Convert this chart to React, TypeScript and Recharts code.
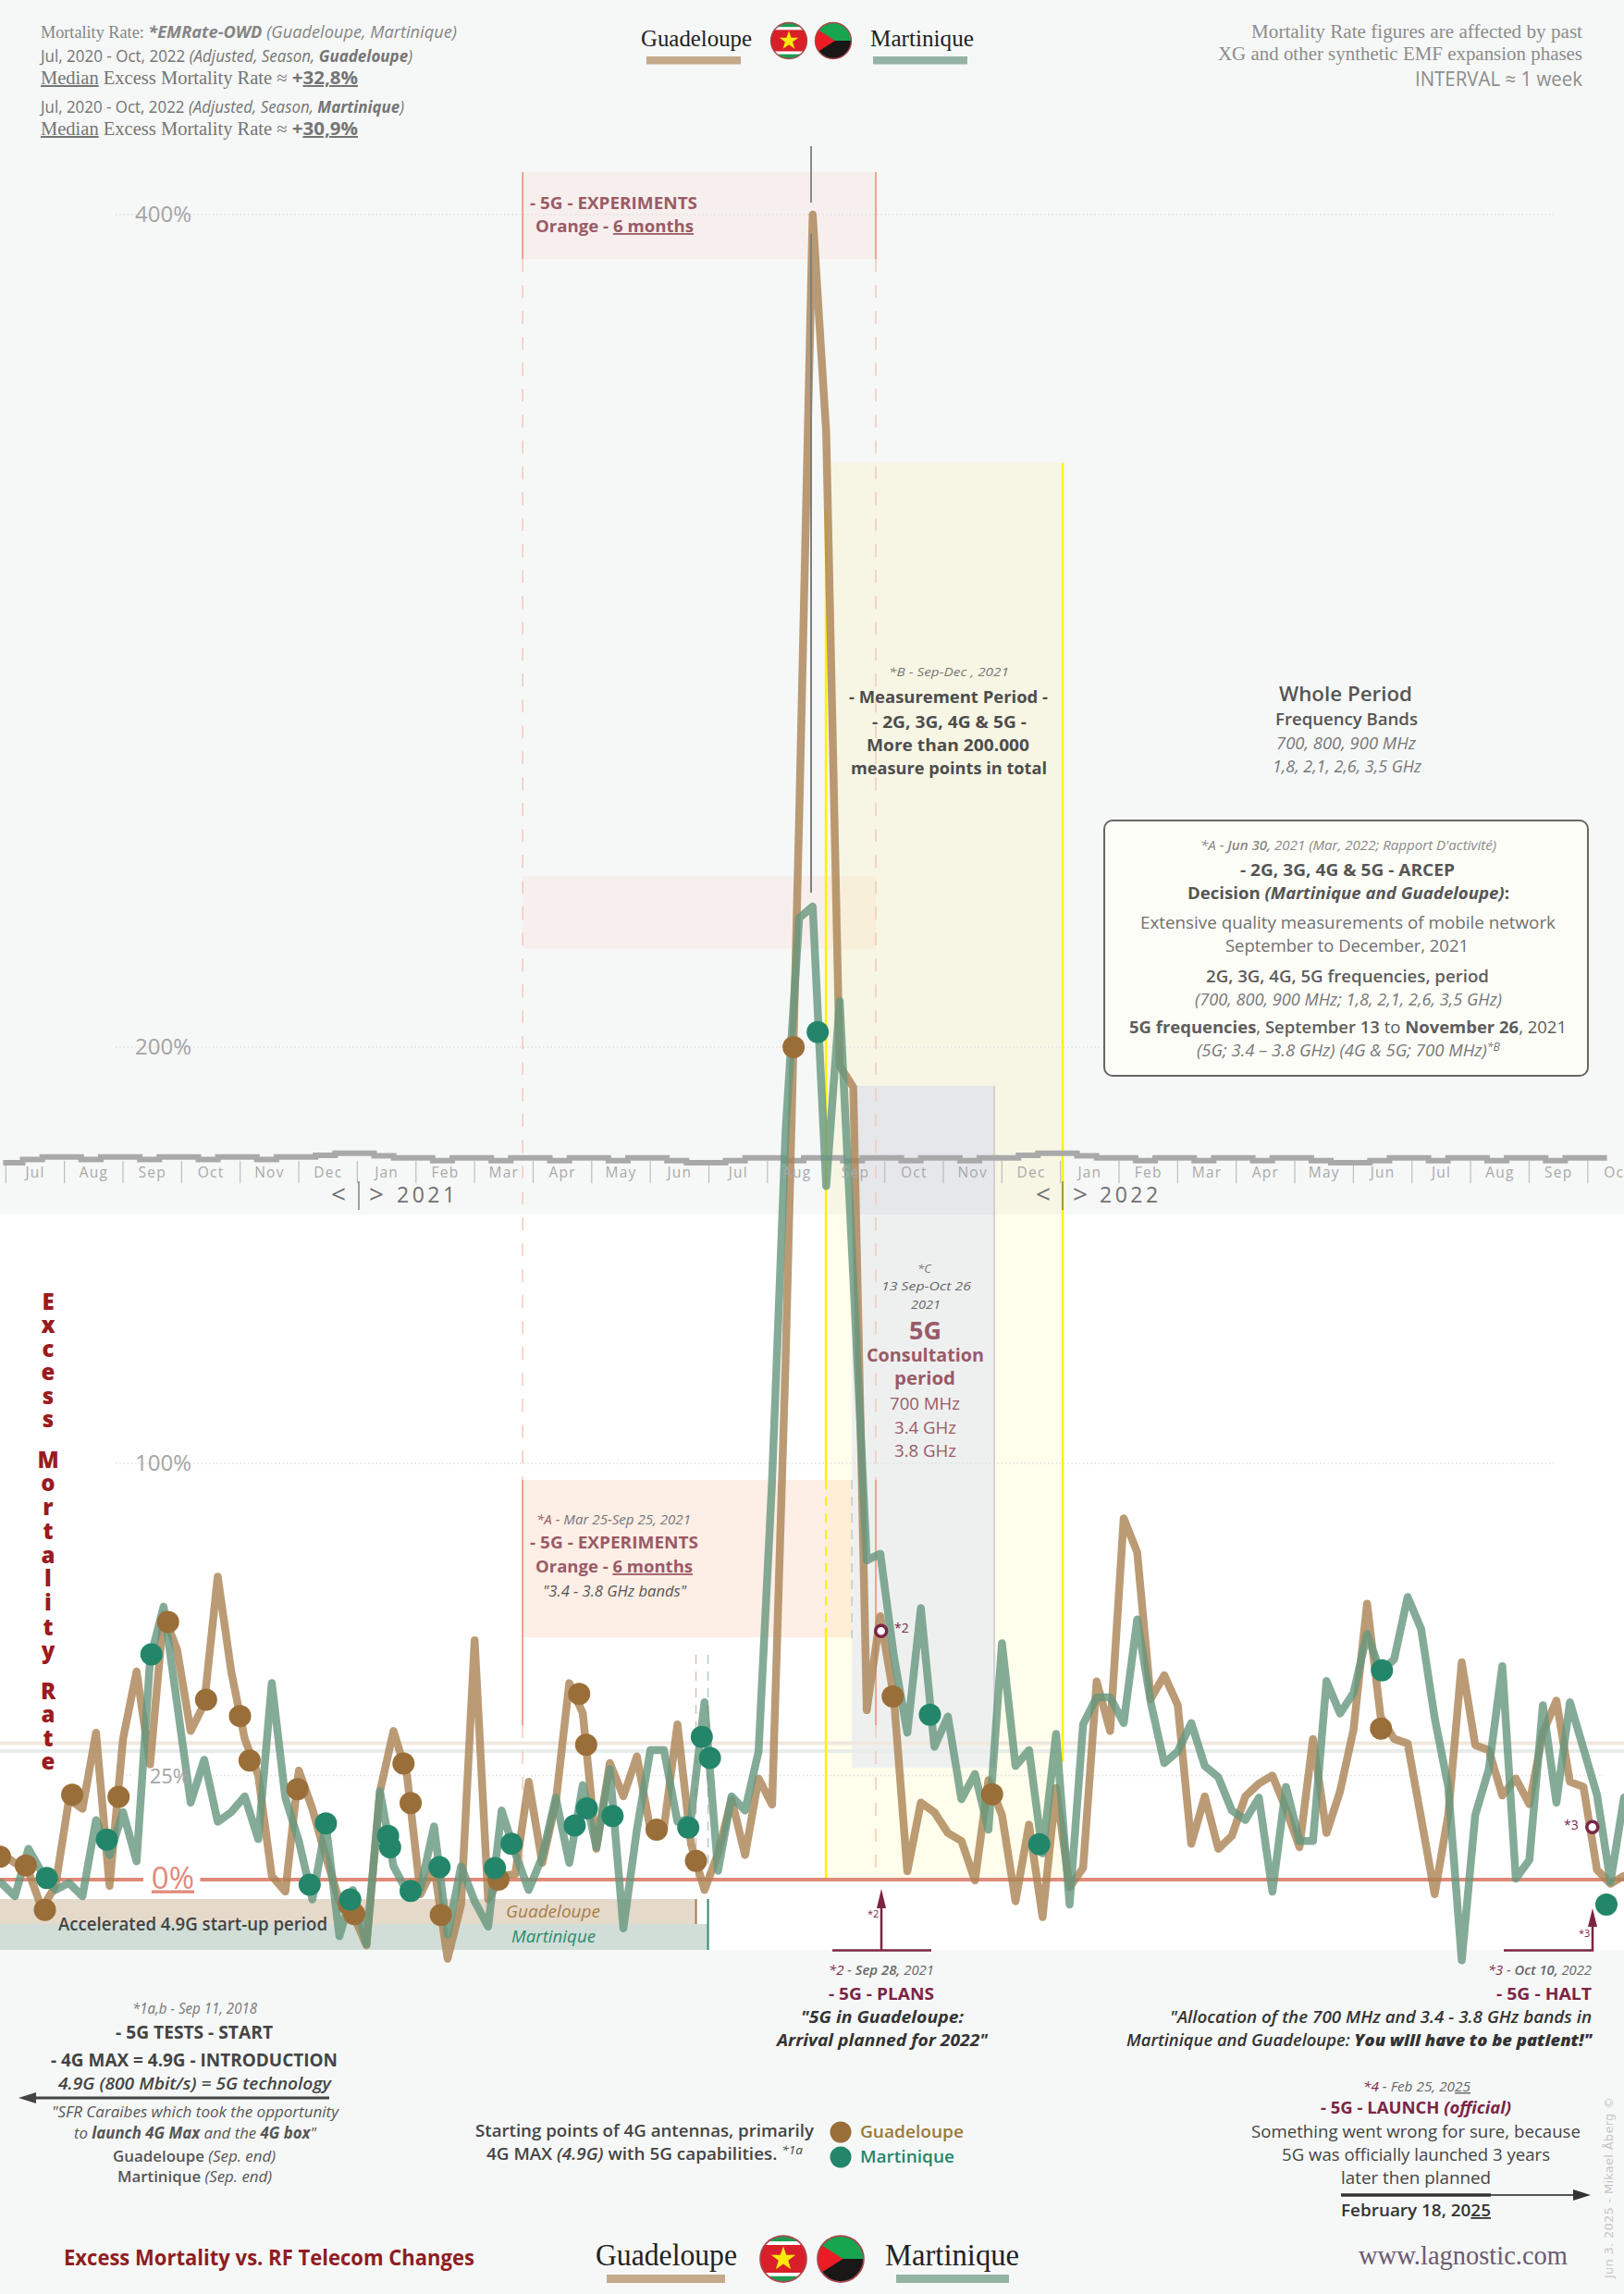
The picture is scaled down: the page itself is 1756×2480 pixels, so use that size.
import React from "react";
import { ComposedChart, Line, XAxis, YAxis, ReferenceArea, ReferenceLine } from "recharts";

// weekly excess mortality, % (week 0 = start of Jul 2020)
const guadeloupe = [
  6.3, 4, 2, -7, -1.5, 19.3, 17, 35.3, -1.5, 33.8, 50, 27.7, 63.7, 55.2, 35.7, 42.2, 72.8, 50, 33.8, 25,
  0.9, -2.9, 26.2, 17, 5.5, -5.2, -8.3, -15.8, 21.2, 35.7, 25, -3.5, 3.2, -19, -6, 57.5, -4.8, 0.9, 1.3, 23.5,
  4, 18.5, 47.2, 40, 7.4, 28, 20, 29.6, 12, 12.4, 37.3, 8.6, -2.5, 6.3, 19.3, 5.9, 24.3, 18, 125, 255,
  400, 347.7, 195.5, 190.4, 40.7, 63.3, 43.8, 2, 18.5, 16.2, 11.2, 9.3, -0.2, 23.9, 15.5, -5.2, 13.2, -9, 22, -1.8,
  2.8, 47.6, 35.7, 86.8, 78.6, 43.4, 49.1, 41.9, 8.6, 20, 7.4, 10.5, 20, 23.1, 25, 17, 7.8, 33.8, 11.2, 21.2,
  36.1, 66.3, 39.2, 33.8, 32.7, 14.7, -3.5, 15.5, 52.2, 32.3, 31.1, 20.2, 24.3, 18.1, 35.3, 43, 23.5, 22.3, 2.4, -1,
  0.9,
];
const martinique = [
  -0.8, -4, 7.4, 1.7, -2.5, -0.8, -4, 14.3, 5.9, 16.2, 4.4, 52.9, 65.6, 42.2, 18.5, 28.8, 13.9, 16.2, 20, 9.7,
  47.2, 19.7, 9.3, -4.8, 13.2, -13.6, -2.5, -15.5, 21.2, 3.2, -2.9, -2.1, 12.8, -13.2, 3.2, -5.2, -11.3, 16.6, 6.3, -2.5,
  5.5, 19.7, 4, 22.7, 7.8, 26.5, -11.7, 12, 31.1, 31.1, 13.9, 14.7, 42.6, 2.1, 20, 16.6, 30.8, 96, 180, 231,
  233.8, 166.6, 211, 145, 76.7, 78.3, 53.7, 35.3, 65.2, 31.9, 39.2, 19.3, 25.4, 12, 56.8, 27.3, 31.1, 6.3, 35, -6,
  37.3, 43.8, 43.8, 37.6, 62.5, 42.6, 28, 30.8, 37.6, 27.3, 24.6, 16.6, 14.3, 19.7, -2.9, 22.3, 9.3, 9.3, 47.7, 39.9,
  44.9, 59, 49.9, 52.9, 67.9, 60.2, 38.8, 22.3, -19.4, 15.5, 26.5, 51.3, 0.2, 4.7, 41.9, 18.5, 42.6, 31.5, 20.4, -0.6,
  19.7,
];
// 4G antenna starting points [week, %]
const guadeloupeStarts = [
  [-0.1, 5.5], [1.81, 3.4], [3.22, -7.3], [5.24, 20.4], [8.67, 19.9], [12.33, 61.9], [15.14, 43.2], [17.65, 39.3],
  [18.36, 28.6], [21.9, 21.7], [25.7, -6], [26.1, -8.3], [29.74, 27.9], [30.27, 18.4], [32.5, -8.5], [36.76, 0],
  [42.73, 44.6], [43.25, 32.4], [48.46, 12], [51.37, 4.5], [58.59, 200], [65.92, 44], [73.27, 20.5], [102.03, 36.3],
];
const martiniqueStarts = [
  [3.36, 0.4], [7.8, 9.6], [11.1, 54.1], [22.8, -1.2], [24, 13.5], [25.8, -4.8], [28.6, 10.5], [28.75, 7.8],
  [30.27, -2.7], [32.4, 3], [36.5, 2.8], [37.73, 8.6], [42.4, 13], [43.3, 17.1], [45.2, 15.3], [50.8, 12.5],
  [51.8, 34.3], [52.4, 29.2], [60.37, 203.6], [68.67, 39.6], [76.76, 8.5], [102.1, 50.3], [118.7, -6],
];
const eventPoints = [[65.06, 59.7], [117.66, 12.6]];

const monthLabels = [
  "Jul", "Aug", "Sep", "Oct", "Nov", "Dec", "Jan", "Feb", "Mar", "Apr", "May", "Jun", "Jul", "Aug",
  "Sep", "Oct", "Nov", "Dec", "Jan", "Feb", "Mar", "Apr", "May", "Jun", "Jul", "Aug", "Sep", "Oct",
];
const percentTicks = [0, 25, 100, 200, 400];
// the stepped band over the month labels, one level per third of a month
const stairLevels = [
  172.2, 173, 173.6, 173.6, 173, 173.6, 173.6, 173, 173.6, 173.6, 173, 173.6, 173.6, 173, 173.6, 173.6, 174, 174.5, 174.5,
  173.9, 173.4, 173.4, 172.7, 173.4, 173.4, 172.7, 173.4, 173.4, 172.7, 173.4, 173.4, 172.7, 173.4, 173.4, 172.7, 172.2, 172.2,
  172.7, 173.4, 173.4, 172.7, 173.4, 173.4, 172.7, 173.4, 173.4, 172.7, 173.4, 173.4, 172.7, 173.4, 173.4, 174, 174.5, 174.5,
  173.9, 173.4, 173.4, 172.7, 173.4, 173.4, 172.7, 173.4, 173.4, 172.7, 173.4, 173.4, 172.7, 172.2, 172.2, 172.7, 173.4, 173.4,
  172.7, 173.4, 173.4, 172.7, 173.4, 173.4, 172.7, 173.4, 173.4, 172.7,
];
const titleLetters = "ExcessMortalityRate".split("");
const titleBaselines = [1416, 1441, 1467, 1492, 1518, 1543, 1587, 1612, 1638, 1664, 1690, 1715, 1741, 1768, 1793, 1837, 1862, 1888, 1913];

const rows = guadeloupe.map((g, i) => ({ week: i, guadeloupe: g, martinique: martinique[i] }));
const toPoints = (list: number[][]) => list.map(([week, rate]) => ({ week, rate }));
const stairRows = stairLevels.map((level, i) => ({ week: 0.13 + i * 1.444, level }));
const monthCenters = monthLabels.map((_, i) => 2.5 + i * 4.333);
const monthEdges = monthLabels.map((_, i) => 0.33 + i * 4.333);

const SANS = "'Open Sans', 'Noto Sans', sans-serif";
const SERIF = "'Liberation Serif', serif";
const CRIMSON = "#7b2545";
const ROSE = "#9a5a66";
const TAN = "#aa8253";
const GREEN = "#65967d";

const MonthTick = ({ x, payload }: any) => (
  <text x={x} y={1273} textAnchor="middle" fontFamily={SANS} fontSize={15.5} letterSpacing={1.2} fill="#a9a9a9">
    {monthLabels[monthCenters.indexOf(payload.value)]}
  </text>
);

const PercentTick = ({ y, payload }: any) => {
  const v = payload.value;
  if (v === 0) {
    return (
      <text x={210} y={y + 9.5} textAnchor="end" fontFamily={SANS} fontSize={33} fill="#e08a7a" textDecoration="underline">
        0%
      </text>
    );
  }
  return (
    <text x={v === 25 ? 205 : 207} y={y + 8} textAnchor="end" fontFamily={SANS} fontSize={v === 25 ? 22 : 24} fill="#a5a5a5">
      {v}%
    </text>
  );
};

// one line of text, x = left edge, y = baseline, w = width on the page
const T = ({ x, y, w, s = 17, f = "#555", b = 400, i = false, serif = false, children }: any) => (
  <text
    x={x}
    y={y}
    fontSize={s}
    fill={f}
    fontWeight={b}
    fontStyle={i ? "italic" : "normal"}
    fontFamily={serif ? SERIF : SANS}
    textLength={w}
    lengthAdjust={w ? "spacingAndGlyphs" : undefined}
  >
    {children}
  </text>
);
const U = ({ children }: any) => <tspan textDecoration="underline">{children}</tspan>;

const GuadeloupeFlag = ({ cx, cy, r, id }: any) => (
  <g transform={`translate(${cx} ${cy}) scale(${r / 20})`}>
    <clipPath id={id}><circle r={20} /></clipPath>
    <g clipPath={`url(#${id})`}>
      <rect x={-20} y={-20} width={40} height={5} fill="#1e9a50" />
      <rect x={-20} y={-15} width={40} height={3} fill="#fff" />
      <rect x={-20} y={-12} width={40} height={24} fill="#d9202a" />
      <rect x={-20} y={12} width={40} height={3} fill="#fff" />
      <rect x={-20} y={15} width={40} height={5} fill="#1e9a50" />
      <polygon points="0,-11 2.6,-3.4 10.5,-3.4 4.2,1.3 6.5,9 0,4.3 -6.5,9 -4.2,1.3 -10.5,-3.4 -2.6,-3.4" fill="#fde90e" />
    </g>
    <circle r={20} fill="none" stroke="#a8474f" strokeWidth={1.4} />
  </g>
);
const MartiniqueFlag = ({ cx, cy, r, id }: any) => (
  <g transform={`translate(${cx} ${cy}) scale(${r / 20})`}>
    <clipPath id={id}><circle r={20} /></clipPath>
    <g clipPath={`url(#${id})`}>
      <rect x={-20} y={-20} width={40} height={20} fill="#18a550" />
      <rect x={-20} y={0} width={40} height={20} fill="#1a1817" />
      <polygon points="2,0 -20,-14 -20,14" fill="#ec1c24" />
    </g>
    <circle r={20} fill="none" stroke="#a8474f" strokeWidth={1.4} />
  </g>
);

const Notes = () => (
  <svg width={1756} height={2480} style={{ position: "absolute", left: 0, top: 0, pointerEvents: "none" }}>
    {/* header left */}
    <T x={44} y={41} w={450} s={18} f="#858585">
      <tspan fontFamily={SERIF}>Mortality Rate: </tspan>
      <tspan fontWeight={700} fontStyle="italic">*EMRate-OWD</tspan>
      <tspan fontStyle="italic"> (Guadeloupe, Martinique)</tspan>
    </T>
    <T x={44} y={67} w={402} s={17.5} f="#757575">
      Jul, 2020 - Oct, 2022 <tspan fontStyle="italic">(Adjusted, Season, </tspan>
      <tspan fontStyle="italic" fontWeight={700}>Guadeloupe</tspan><tspan fontStyle="italic">)</tspan>
    </T>
    <T x={44} y={91} w={343} s={20} f="#757575" serif>
      <U>Median</U> Excess Mortality Rate ≈ <tspan fontWeight={700} fontFamily={SANS}>+<U>32,8%</U></tspan>
    </T>
    <T x={44} y={122} w={393} s={17.5} f="#757575">
      Jul, 2020 - Oct, 2022 <tspan fontStyle="italic">(Adjusted, Season, </tspan>
      <tspan fontStyle="italic" fontWeight={700}>Martinique</tspan><tspan fontStyle="italic">)</tspan>
    </T>
    <T x={44} y={146} w={343} s={20} f="#757575" serif>
      <U>Median</U> Excess Mortality Rate ≈ <tspan fontWeight={700} fontFamily={SANS}>+<U>30,9%</U></tspan>
    </T>

    {/* header right */}
    <T x={1353} y={41} w={358} s={20} f="#8c8c8c" serif>Mortality Rate figures are affected by past</T>
    <T x={1317} y={65} w={394} s={20} f="#8c8c8c" serif>XG and other synthetic EMF expansion phases</T>
    <T x={1530} y={93} w={181} s={21} f="#8c8c8c">INTERVAL ≈ 1 week</T>

    {/* series key, top */}
    <T x={693} y={50} w={120} s={26} f="#222" serif>Guadeloupe</T>
    <T x={941} y={50} w={112} s={26} f="#222" serif>Martinique</T>
    <rect x={699} y={61} width={102} height={8.5} fill="#c4a98a" />
    <rect x={944} y={61} width={102} height={8.5} fill="#94b3a4" />
    <GuadeloupeFlag cx={853} cy={44} r={19.5} id="flagG1" />
    <MartiniqueFlag cx={901} cy={44} r={19.5} id="flagM1" />

    {/* 5G experiments, upper label */}
    <T x={573} y={226} w={181} s={18} f={ROSE} b={700}>- 5G - EXPERIMENTS</T>
    <T x={579} y={251} w={171} s={18} f={ROSE} b={700}>Orange - <U>6 months</U></T>

    <line x1={877} y1={158} x2={877} y2={219} stroke="#8a8a8a" strokeWidth={2} />
    <line x1={877} y1={253} x2={877} y2={965} stroke="#7f7f7f" strokeWidth={2} />

    {/* measurement period */}
    <T x={961} y={731} w={130} s={13.5} f="#777" i>*B - Sep-Dec , 2021</T>
    <T x={918} y={760} w={215} s={18} f="#4d4d4d" b={700}>- Measurement Period -</T>
    <T x={943} y={787} w={167} s={18} f="#4d4d4d" b={700}>- 2G, 3G, 4G &amp; 5G -</T>
    <T x={937} y={812} w={176} s={18} f="#4d4d4d" b={700}>More than 200.000</T>
    <T x={920} y={837} w={212} s={18} f="#4d4d4d" b={700}>measure points in total</T>

    {/* whole period */}
    <T x={1383} y={758} w={144} s={22} f="#555" b={600}>Whole Period</T>
    <T x={1379} y={784} w={154} s={17.5} f="#555" b={600}>Frequency Bands</T>
    <T x={1380} y={810} w={151} s={17.5} f="#777" i>700, 800, 900 MHz</T>
    <T x={1376} y={835} w={161} s={17.5} f="#777" i>1,8, 2,1, 2,6, 3,5 GHz</T>

    {/* decision box */}
    <rect x={1194} y={887} width={523} height={276} rx={9} fill="#fdfdf8" stroke="#666" strokeWidth={2} />
    <T x={1298} y={919} w={320} s={14.5} f="#8a8a8a" i>*A - <tspan fontWeight={600}>Jun 30,</tspan> 2021 (Mar, 2022; Rapport D'activité)</T>
    <T x={1341} y={947} w={232} s={18} f="#555" b={700}>- 2G, 3G, 4G &amp; 5G - ARCEP</T>
    <T x={1284} y={972} w={348} s={18} f="#555" b={700}>Decision <tspan fontStyle="italic">(Martinique and Guadeloupe)</tspan>:</T>
    <T x={1233} y={1004} w={449} s={18} f="#707070">Extensive quality measurements of  mobile network</T>
    <T x={1325} y={1029} w={263} s={18} f="#707070">September to December, 2021</T>
    <T x={1304} y={1062} w={306} s={18} f="#5d5d5d" b={600}>2G, 3G, 4G, 5G frequencies, period</T>
    <T x={1292} y={1087} w={332} s={18} f="#777" i>(700, 800, 900 MHz; 1,8, 2,1, 2,6, 3,5 GHz)</T>
    <T x={1221} y={1117} w={473} s={18} f="#5d5d5d">
      <tspan fontWeight={700}>5G frequencies</tspan>, <tspan fontWeight={600}>September 13</tspan> to <tspan fontWeight={700}>November 26</tspan>, 2021
    </T>
    <T x={1294} y={1142} w={328} s={18} f="#777" i>(5G; 3.4 – 3.8 GHz) (4G &amp; 5G; 700 MHz)<tspan fontSize={12} dy={-6}>*B</tspan></T>

    {/* year marks */}
    <g fontFamily={SANS} fill="#707070">
      <text x={358} y={1301} fontSize={28}>&lt;</text>
      <text x={399} y={1301} fontSize={28}>&gt;</text>
      <text x={429} y={1300} fontSize={23} letterSpacing={3.5}>2021</text>
      <text x={1120} y={1301} fontSize={28}>&lt;</text>
      <text x={1160} y={1301} fontSize={28}>&gt;</text>
      <text x={1189} y={1300} fontSize={23} letterSpacing={3.5}>2022</text>
    </g>
    <line x1={388} y1={1277} x2={388} y2={1308} stroke="#666" strokeWidth={1.2} />
    <line x1={1149} y1={1277} x2={1149} y2={1308} stroke="#666" strokeWidth={1.2} />

    {/* consultation */}
    <T x={992} y={1376} s={13} f="#777" i>*C</T>
    <T x={953} y={1395} w={97} s={13.5} f="#666" i>13 Sep-Oct 26</T>
    <T x={985} y={1415} w={32} s={13.5} f="#666" i>2021</T>
    <T x={983} y={1448} w={35} s={26} f={ROSE} b={700}>5G</T>
    <T x={937} y={1472} w={127} s={20} f={ROSE} b={700}>Consultation</T>
    <T x={967} y={1497} w={66} s={20} f={ROSE} b={700}>period</T>
    <T x={962} y={1524} w={76} s={18} f={ROSE}>700 MHz</T>
    <T x={967} y={1550} w={67} s={18} f={ROSE}>3.4 GHz</T>
    <T x={967} y={1575} w={67} s={18} f={ROSE}>3.8 GHz</T>

    {/* 5G experiments, lower label */}
    <T x={580} y={1648} w={167} s={14} f="#777" i><tspan fill={ROSE}>*A</tspan> - Mar 25-Sep 25, 2021</T>
    <T x={573} y={1674} w={182} s={18} f={ROSE} b={700}>- 5G - EXPERIMENTS</T>
    <T x={579} y={1700} w={170} s={18} f={ROSE} b={700}>Orange - <U>6 months</U></T>
    <T x={587} y={1726} w={155} s={16} f="#555" i>"3.4 - 3.8 GHz bands"</T>

    {/* axis title, one letter per line */}
    <text fontFamily={SANS} fontSize={24} fontWeight={800} fill="#9a1b20" textAnchor="middle">
      {titleLetters.map((c, k) => (
        <tspan key={k} x={52} y={titleBaselines[k]}>{c}</tspan>
      ))}
    </text>

    {/* start-up period */}
    <T x={63} y={2087} w={291} s={19} f="#444" b={600}>Accelerated 4.9G start-up period</T>
    <T x={547} y={2073} w={102} s={18} f="#a57d45" i>Guadeloupe</T>
    <T x={553} y={2100} w={91} s={18} f="#2e8b6d" i>Martinique</T>

    {/* event marks */}
    <T x={967} y={1765} s={14} f={CRIMSON}>*2</T>
    <T x={938} y={2073} s={11} f={CRIMSON}>*2</T>
    <T x={1691} y={1978} s={14} f={CRIMSON}>*3</T>
    <T x={1707} y={2094} s={11} f={CRIMSON}>*3</T>
    <path d="M900 2108.5H1007M953 2108.5V2060" stroke={CRIMSON} strokeWidth={2.5} fill="none" />
    <polygon points="953,2042 948,2063 958,2063" fill={CRIMSON} />
    <path d="M1626 2108.5H1722V2080" stroke={CRIMSON} strokeWidth={2.5} fill="none" />
    <polygon points="1722,2063 1717,2083 1727,2083" fill={CRIMSON} />

    {/* left block */}
    <T x={143} y={2177} w={135} s={15.5} f="#777" i>*1a,b - Sep 11, 2018</T>
    <T x={125} y={2204} w={170} s={20} f="#444" b={700}>- 5G TESTS - START</T>
    <T x={55} y={2234} w={310} s={20} f="#444" b={700}>- 4G MAX = 4.9G - INTRODUCTION</T>
    <T x={63} y={2259} w={295} s={18.5} f="#444" b={600} i>4.9G (800 Mbit/s) = 5G technology</T>
    <line x1={36} y1={2268} x2={356} y2={2268} stroke="#444" strokeWidth={3} />
    <polygon points="20,2268 39,2262 39,2274" fill="#444" />
    <T x={56} y={2289} w={310} s={17} f="#555" i>"SFR Caraibes which took the opportunity</T>
    <T x={80} y={2312} w={262} s={17} f="#555" i>to <tspan fontWeight={700}>launch 4G Max</tspan> and the <tspan fontWeight={700}>4G box</tspan>"</T>
    <T x={122} y={2337} w={176} s={17} f="#555"><tspan fontWeight={600}>Guadeloupe</tspan> <tspan fontStyle="italic">(Sep. end)</tspan></T>
    <T x={127} y={2359} w={167} s={17} f="#555"><tspan fontWeight={600}>Martinique</tspan> <tspan fontStyle="italic">(Sep. end)</tspan></T>

    {/* centre block */}
    <T x={514} y={2310} w={366} s={18} f="#444" b={600}>Starting points of 4G antennas, primarily</T>
    <T x={526} y={2335} w={342} s={18} f="#444" b={600}>4G MAX <tspan fontStyle="italic">(4.9G)</tspan> with 5G capabilities. <tspan fontSize={13} dy={-6} fontWeight={400} fontStyle="italic">*1a</tspan></T>
    <circle cx={909} cy={2305} r={11.5} fill="#9a6e38" />
    <circle cx={909} cy={2332} r={11.5} fill="#23866a" />
    <T x={930} y={2311} w={112} s={18} f="#9a7a3a" b={600}>Guadeloupe</T>
    <T x={930} y={2338} w={102} s={18} f="#23866a" b={600}>Martinique</T>

    {/* plans */}
    <T x={896} y={2135} w={114} s={14.5} f="#666" i><tspan fill={CRIMSON}>*2</tspan> - <tspan fontWeight={600}>Sep 28,</tspan> 2021</T>
    <T x={896} y={2162} w={114} s={18} f={CRIMSON} b={700}>- 5G - PLANS</T>
    <T x={866} y={2187} w={176} s={18} f="#333" b={700} i>"5G in Guadeloupe:</T>
    <T x={840} y={2212} w={228} s={18} f="#333" b={700} i>Arrival planned for 2022"</T>

    {/* halt */}
    <T x={1609} y={2135} w={112} s={14.5} f="#666" i><tspan fill={CRIMSON}>*3</tspan> - <tspan fontWeight={600}>Oct 10,</tspan> 2022</T>
    <T x={1618} y={2162} w={103} s={18} f={CRIMSON} b={700}>- 5G - HALT</T>
    <T x={1265} y={2187} w={456} s={18} f="#333" b={600} i>"Allocation of the 700 MHz and 3.4 - 3.8 GHz bands in</T>
    <T x={1218} y={2212} w={503} s={18} f="#333" b={600} i>Martinique and Guadeloupe: <tspan fontWeight={800}>You will have to be patient!"</tspan></T>

    {/* launch */}
    <T x={1474} y={2261} w={116} s={14.5} f="#666" i><tspan fill={CRIMSON}>*4</tspan> - Feb 25, 20<U>25</U></T>
    <T x={1428} y={2285} w={206} s={18} f={CRIMSON} b={700}>- 5G - LAUNCH <tspan fontStyle="italic">(official)</tspan></T>
    <T x={1353} y={2311} w={356} s={18} f="#444">Something went wrong for sure, because</T>
    <T x={1386} y={2336} w={290} s={18} f="#444">5G was officially launched 3 years</T>
    <T x={1450} y={2361} w={162} s={18} f="#444">later then planned</T>
    <line x1={1450} y1={2373} x2={1612} y2={2373} stroke="#333" strokeWidth={3.5} />
    <line x1={1612} y1={2373} x2={1704} y2={2373} stroke="#555" strokeWidth={2} />
    <polygon points="1720,2373 1701,2367 1701,2379" fill="#333" />
    <T x={1450} y={2396} w={162} s={18} f="#333" b={600}>February 18, 20<U>25</U></T>

    {/* footer */}
    <T x={69} y={2449} w={444} s={24} f="#8f1d22" b={700}>Excess Mortality vs. RF Telecom Changes</T>
    <T x={644} y={2449} w={153} s={33} f="#222" serif>Guadeloupe</T>
    <T x={957} y={2449} w={145} s={33} f="#222" serif>Martinique</T>
    <rect x={656} y={2459} width={128} height={9} fill="#c4a98a" />
    <rect x={969} y={2459} width={122} height={9} fill="#94b3a4" />
    <GuadeloupeFlag cx={847} cy={2442} r={25} id="flagG2" />
    <MartiniqueFlag cx={909} cy={2442} r={25} id="flagM2" />
    <T x={1469} y={2448} w={226} s={29} f="#6b5a70" serif>www.lagnostic.com</T>
    <text
      transform="translate(1744 2463) rotate(-90)"
      fontFamily="'DejaVu Sans', sans-serif"
      fontSize={13}
      fill="#c6c6c6"
      textLength={196}
    >
      Jun 3. 2025 - Mikael Åberg ©
    </text>
  </svg>
);

const gridLines = [
  { y: 400, from: 8.45, to: 114.8 },
  { y: 200, from: 8.45, to: 114.8 },
  { y: 100, from: 8.45, to: 114.8 },
  { y: 25, from: 9.2, to: 9.8 },
  { y: 25, from: 15.6, to: 118.5 },
];

const vline = (week: number, top: number, bottom: number, stroke: string, width: number, dash?: string) => (
  <ReferenceLine
    key={`${week}-${top}`}
    segment={[{ x: week, y: top }, { x: week, y: bottom }]}
    stroke={stroke}
    strokeWidth={width}
    strokeDasharray={dash}
  />
);

export default function App() {
  return (
    <div style={{ position: "absolute", left: 0, top: 0, width: 1756, height: 2480, background: "#f6f8f7", overflow: "hidden" }}>
      <ComposedChart width={1756} height={2480} data={rows} margin={{ top: 7, right: 0, bottom: 2.5, left: 0 }}>
        <XAxis
          type="number"
          dataKey="week"
          orientation="top"
          mirror
          height={1}
          domain={[-0.1, 120]}
          allowDataOverflow
          ticks={monthCenters}
          interval={0}
          axisLine={false}
          tickLine={false}
          tick={MonthTick}
        />
        <YAxis
          type="number"
          mirror
          width={1}
          domain={[-99, 450]}
          allowDataOverflow
          ticks={percentTicks}
          interval={0}
          axisLine={false}
          tickLine={false}
          tick={PercentTick}
        />

        {/* page bands */}
        <ReferenceArea x1={-0.1} x2={120} y1={159.8} y2={-16.9} fill="#fff" fillOpacity={1} stroke="none" />
        <ReferenceArea x1={-0.1} x2={51.37} y1={-4.67} y2={-10.67} fill="#e5d9ca" fillOpacity={1} stroke="none" />
        <ReferenceArea x1={-0.1} x2={52.26} y1={-10.67} y2={-16.9} fill="#d0ded7" fillOpacity={1} stroke="none" />
        <ReferenceArea x1={38.55} x2={64.67} y1={410.2} y2={389.3} fill="#f7efed" fillOpacity={1} stroke="none" />
        <ReferenceArea x1={38.55} x2={64.67} y1={241.1} y2={223.6} fill="#f7efed" fillOpacity={1} stroke="none" />
        <ReferenceArea x1={38.55} x2={64.67} y1={96} y2={58.2} fill="#fdeee6" fillOpacity={1} stroke="none" />
        <ReferenceArea x1={60.98} x2={78.49} y1={340.4} y2={0} fill="#fff25a" fillOpacity={0.12} stroke="none" />
        <ReferenceArea x1={62.9} x2={73.43} y1={190.7} y2={159.8} fill="#e6e7ea" fillOpacity={1} stroke="none" />
        <ReferenceArea x1={62.9} x2={73.43} y1={159.8} y2={26.9} fill="#eef0f0" fillOpacity={1} stroke="none" />

        {/* month dividers */}
        {monthEdges.map((w) => vline(w, 172.7, 167.3, "#bdbdbd", 1.2))}

        {/* median lines */}
        <ReferenceLine y={32.8} stroke="#f0e8df" strokeWidth={4} />
        <ReferenceLine y={30.9} stroke="#e6edea" strokeWidth={4} />

        {gridLines.map((g, k) => (
          <ReferenceLine
            key={k}
            segment={[{ x: g.from, y: g.y }, { x: g.to, y: g.y }]}
            stroke="#e0e0e0"
            strokeWidth={1.6}
            strokeDasharray="1.6 2.6"
          />
        ))}

        {/* experiment edges */}
        {vline(38.55, 410.2, 389.3, "#ee8a6a", 1.5)}
        {vline(38.55, 389.3, 96, "#f6c8b5", 1.5, "14 14")}
        {vline(38.55, 96, 37.1, "#ee8a6a", 1.5)}
        {vline(38.55, 37.1, 0, "#f6c8b5", 1.5, "14 14")}
        {vline(64.67, 410.2, 389.3, "#ee8a6a", 1.5)}
        {vline(64.67, 389.3, 96, "#f6c8b5", 1.5, "14 14")}
        {vline(64.67, 96, 37.1, "#ee8a6a", 1.5)}
        {vline(64.67, 37.1, 0, "#f6c8b5", 1.5, "14 14")}

        {/* measurement and consultation edges */}
        {vline(60.98, 328.9, 96, "#fff200", 2.5)}
        {vline(60.98, 96, 60.5, "#fff200", 2, "10 8")}
        {vline(60.98, 60.5, 0, "#fff200", 2.5)}
        {vline(78.49, 340.4, 28.2, "#fff200", 2.5)}
        {vline(62.9, 96, 58, "#c5c8cc", 1.5, "10 8")}
        {vline(73.43, 190.7, 26.9, "#d0d1d1", 2)}

        {/* start-up edges */}
        {vline(51.37, 54, 0.5, "#cfc4b4", 1.5, "10 8")}
        {vline(52.26, 54, 0.5, "#b7cbc2", 1.5, "10 8")}
        {vline(51.37, -4.67, -10.67, "#a57d45", 2)}
        {vline(52.26, -4.67, -16.9, "#2e8b6d", 2)}

        {/* zero line, broken by its label */}
        <ReferenceLine segment={[{ x: -0.1, y: 0 }, { x: 10.5, y: 0 }]} stroke="#e08a7a" strokeWidth={4} />
        <ReferenceLine segment={[{ x: 14.7, y: 0 }, { x: 120, y: 0 }]} stroke="#e08a7a" strokeWidth={4} />

        <Line
          data={stairRows}
          dataKey="level"
          type="stepAfter"
          stroke="#a9a9a9"
          strokeWidth={6}
          dot={false}
          isAnimationActive={false}
        />
        <Line
          dataKey="guadeloupe"
          type="linear"
          stroke={TAN}
          strokeOpacity={0.8}
          strokeWidth={8.5}
          strokeLinejoin="round"
          strokeLinecap="round"
          dot={false}
          isAnimationActive={false}
        />
        <Line
          dataKey="martinique"
          type="linear"
          stroke={GREEN}
          strokeOpacity={0.8}
          strokeWidth={8.5}
          strokeLinejoin="round"
          strokeLinecap="round"
          dot={false}
          isAnimationActive={false}
        />
        <Line
          data={toPoints(guadeloupeStarts)}
          dataKey="rate"
          stroke="none"
          dot={{ r: 12, fill: "#9a6e38", stroke: "none" }}
          isAnimationActive={false}
        />
        <Line
          data={toPoints(martiniqueStarts)}
          dataKey="rate"
          stroke="none"
          dot={{ r: 12, fill: "#23866a", stroke: "none" }}
          isAnimationActive={false}
        />
        <Line
          data={toPoints(eventPoints)}
          dataKey="rate"
          stroke="none"
          dot={{ r: 6, fill: "#fff", stroke: CRIMSON, strokeWidth: 3.5 }}
          isAnimationActive={false}
        />
      </ComposedChart>
      <Notes />
    </div>
  );
}
